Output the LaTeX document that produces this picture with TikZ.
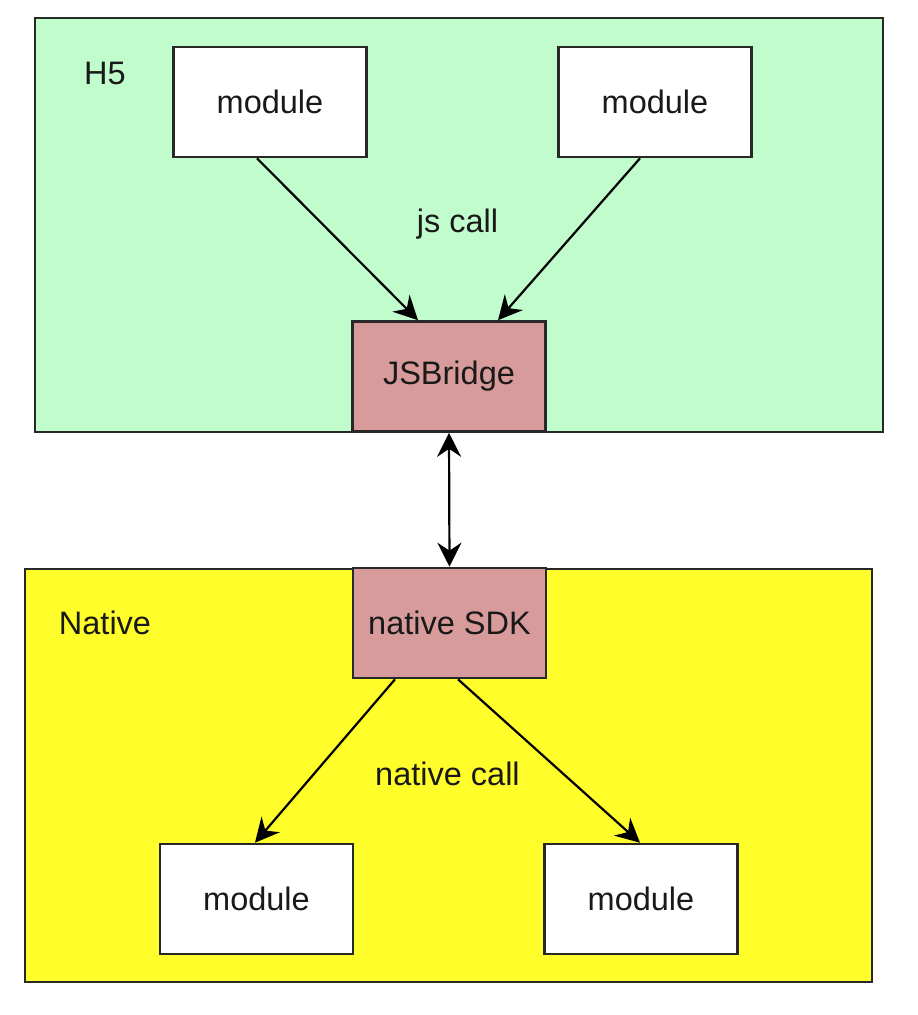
\documentclass[tikz,border=0pt]{standalone}
\usepackage{fontspec}
\setmainfont{Liberation Sans}
\usetikzlibrary{arrows.meta,calc}
\definecolor{hgreen}{RGB}{193,252,205}
\definecolor{nyellow}{RGB}{255,253,42}
\definecolor{bpink}{RGB}{216,155,155}
\definecolor{edge}{RGB}{40,40,40}
\definecolor{ink}{RGB}{25,25,25}
\begin{document}
\begin{tikzpicture}[x=1pt,y=-1pt,
  every node/.style={font=\fontsize{32.5}{39}\selectfont, text=ink},
  container/.style={draw=edge, line width=2.6pt, rectangle, inner sep=0pt},
  modbox/.style={draw=edge, line width=2.6pt, fill=white, rectangle, inner sep=0pt, minimum width=193pt, minimum height=110pt},
  bridgebox/.style={draw=edge, line width=2.6pt, fill=bpink, rectangle, inner sep=0pt, minimum width=193pt, minimum height=110pt},
  conn/.style={draw=black, line width=2.2pt, -{Stealth[length=24pt,width=24pt,inset=8pt]}},
  dconn/.style={draw=black, line width=2.2pt, {Stealth[length=24pt,width=24pt,inset=8pt]}-{Stealth[length=24pt,width=24pt,inset=8pt]}},
  lbl/.style={inner sep=0pt}
]
\useasboundingbox (0,0) rectangle (918,1015);
\fill[white] (0,0) rectangle (918,1015);

% containers
\node[container, fill=hgreen, minimum width=848pt, minimum height=414pt] (h5) at (459,225) {};
\node[container, fill=nyellow, minimum width=847pt, minimum height=413pt] (nat) at (448.5,775.5) {};

% labels
\node[lbl] (h5lbl) at (105,73) {H5};
\node[lbl] (natlbl) at (105,623) {Native};
\node[lbl] (jscall) at (457.5,224) {js call};
\node[lbl] (natcall) at (447.5,774) {native call};

% boxes
\node[modbox] (m1) at (270,102) {module};
\node[modbox] (m2) at (655,102) {module};
\node[bridgebox] (js) at (449,376.5) {JSBridge};
\node[bridgebox] (sdk) at (449.5,623) {native SDK};
\node[modbox] (b1) at (256.5,899) {module};
\node[modbox] (b2) at (641,899) {module};

% connectors
\draw[conn] ([xshift=-13pt]m1.south) -- ([xshift=-31pt]js.north);
\draw[conn] ([xshift=-15pt]m2.south) -- ([xshift=49pt]js.north);
\draw[dconn] (js.south) -- (sdk.north);
\draw[conn] ([xshift=-54.5pt]sdk.south) -- ([xshift=-1.5pt]b1.north);
\draw[conn] ([xshift=8.5pt]sdk.south) -- ([xshift=-1pt]b2.north);
\end{tikzpicture}
\end{document}
